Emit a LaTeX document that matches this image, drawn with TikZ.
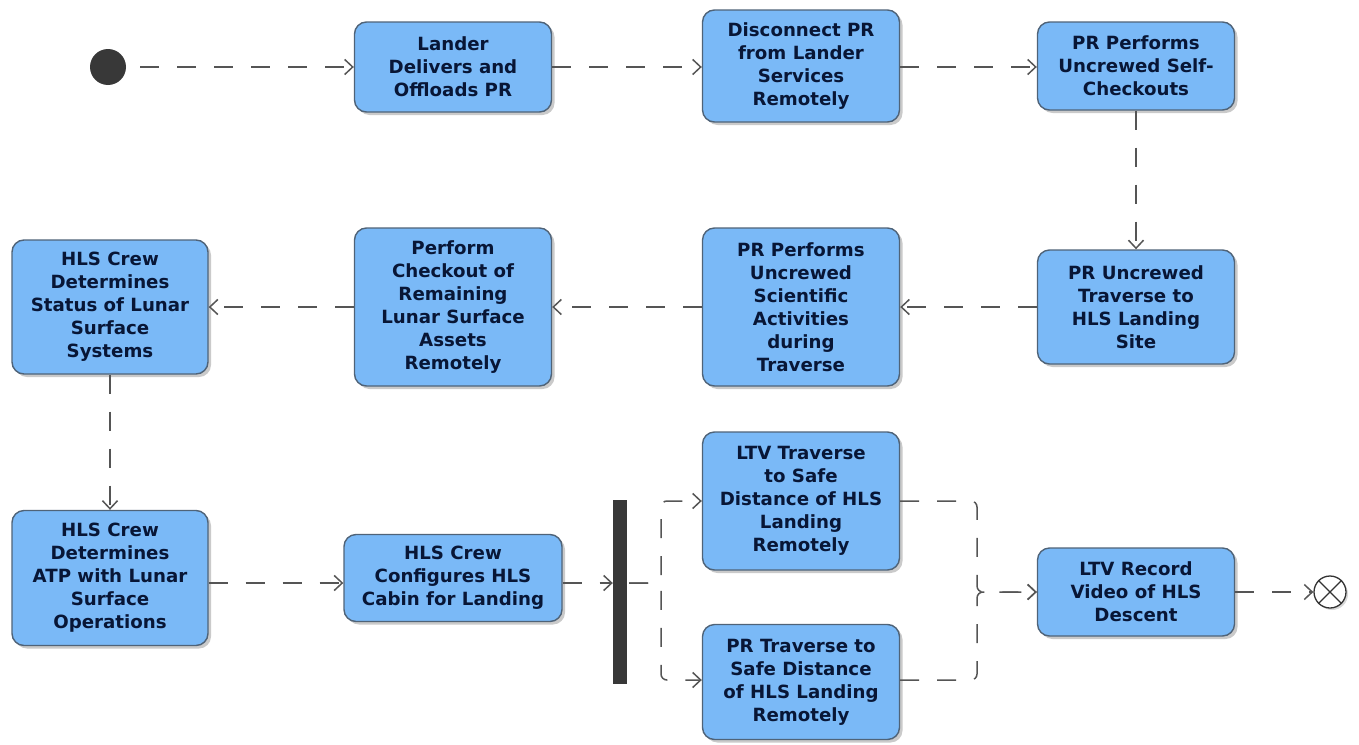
\documentclass[tikz,border=0pt]{standalone}
\usepackage{fontspec}
\setmainfont{DejaVu Sans}
\usetikzlibrary{arrows.meta,shadows,calc}
\definecolor{actfill}{HTML}{7AB9F7}
\definecolor{actline}{HTML}{4F6378}
\definecolor{acttext}{HTML}{081636}
\definecolor{flowline}{HTML}{555555}
\begin{document}
\begin{tikzpicture}[x=1pt,y=-1pt,
  act/.style={draw=actline, line width=1.4pt, fill=actfill, rounded corners=12pt,
    text=acttext, align=center, inner sep=2pt,
    font=\fontsize{18.2}{23}\selectfont\bfseries,
    drop shadow={shadow xshift=3pt, shadow yshift=-3pt, opacity=0.35, fill=black!60}},
  flow/.style={draw=flowline, line width=1.5pt, dash pattern=on 19pt off 18pt,
    -{Straight Barb[length=8pt,width=15pt,line width=1.5pt]}},
  softturn/.style={rounded corners=6pt}
]
\useasboundingbox (0,0) rectangle (1359,744);

% initial and final nodes
\node (start) [circle, fill=black!78, minimum size=36pt, inner sep=0pt] at (108,67) {};
\node (final) [circle, draw=black!80, line width=1.3pt, fill=white, minimum size=32pt, inner sep=0pt,
  drop shadow={shadow xshift=2pt, shadow yshift=-2pt, opacity=0.3}] at (1330,592) {};
\draw[black!80, line width=1.3pt] (final.north east) -- (final.south west)
  (final.north west) -- (final.south east);

% actions, top row
\node (land) [act, minimum width=197pt, minimum height=90pt] at (453,67)
  {Lander\\Delivers and\\Offloads PR};
\node (disc) [act, minimum width=197pt, minimum height=112pt] at (801,66)
  {Disconnect PR\\from Lander\\Services\\Remotely};
\node (self) [act, minimum width=197pt, minimum height=88pt] at (1136,66)
  {PR Performs\\Uncrewed Self-\\Checkouts};

% actions, middle row
\node (trav) [act, minimum width=197pt, minimum height=114pt] at (1136,307)
  {PR Uncrewed\\Traverse to\\HLS Landing\\Site};
\node (sci) [act, minimum width=197pt, minimum height=158pt] at (801,307)
  {PR Performs\\Uncrewed\\Scientific\\Activities\\during\\Traverse};
\node (chk) [act, minimum width=197pt, minimum height=158pt] at (453,307)
  {Perform\\Checkout of\\Remaining\\Lunar Surface\\Assets\\Remotely};
\node (stat) [act, minimum width=196pt, minimum height=134pt] at (110,307)
  {HLS Crew\\Determines\\Status of Lunar\\Surface\\Systems};

% actions, bottom row
\node (atp) [act, minimum width=196pt, minimum height=135pt] at (110,578)
  {HLS Crew\\Determines\\ATP with Lunar\\Surface\\Operations};
\node (cfg) [act, minimum width=218pt, minimum height=87pt] at (453,578)
  {HLS Crew\\Configures HLS\\Cabin for Landing};
\node (bar) [fill=black!78, minimum width=14pt, minimum height=184pt, inner sep=0pt] at (620,592) {};
\node (ltv) [act, minimum width=197pt, minimum height=138pt] at (801,501)
  {LTV Traverse\\to Safe\\Distance of HLS\\Landing\\Remotely};
\node (prt) [act, minimum width=197pt, minimum height=115pt] at (801,682)
  {PR Traverse to\\Safe Distance\\of HLS Landing\\Remotely};
\node (rec) [act, minimum width=197pt, minimum height=88pt] at (1136,592)
  {LTV Record\\Video of HLS\\Descent};

% routing points
\coordinate (row) at (0,583);
\coordinate (lowrow) at (0,680);
\coordinate (split) at (661,583);
\coordinate (join) at (977,592);

% control flows
\draw[flow, shorten <=14pt] (start.east) -- (land.west |- start.east);
\draw[flow] (land.east) -- (disc.west |- land.east);
\draw[flow] (disc.east |- land.east) -- (self.west |- land.east);
\draw[flow] (self.south) -- (trav.north);
\draw[flow] (trav.west) -- (sci.east);
\draw[flow] (sci.west) -- (chk.east);
\draw[flow] (chk.west) -- (stat.east);
\draw[flow] (stat.south) -- (atp.north);
\draw[flow] (atp.east |- row) -- (cfg.west |- row);
\draw[flow] (cfg.east |- row) -- (bar.west |- row);

% fork
\draw[flow, softturn] ([xshift=2pt]bar.east |- row) -- (split) |- (ltv.west);
\draw[flow, softturn] ([xshift=2pt]bar.east |- row) -- (split) |- (prt.west |- lowrow);

% join
\draw[flow, softturn] (ltv.east) -| (join) -- (rec.west);
\draw[flow, softturn] (prt.east |- lowrow) -| (join) -- (rec.west);
\draw[flow] (rec.east) -- (final.west);
\end{tikzpicture}
\end{document}
